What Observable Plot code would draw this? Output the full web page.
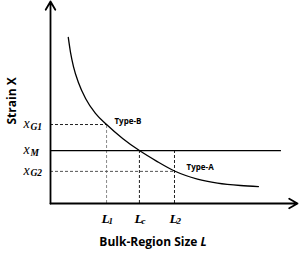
<!DOCTYPE html>
<html>
<head>
<meta charset="utf-8">
<script src="https://cdn.jsdelivr.net/npm/d3@7"></script>
<script src="https://cdn.jsdelivr.net/npm/@observablehq/plot@0.6"></script>
<style>
  html, body { margin: 0; padding: 0; background: #fff; }
  svg { display: block; }
</style>
</head>
<body>
<div id="chart"></div>
<script>
// Curve (L = bulk-region size, X = strain), arbitrary units
const curveL = [0.72, 0.81, 0.93, 1.13, 1.42, 1.82, 2.27, 2.92, 3.60, 4.29, 5.02, 5.95, 6.76, 7.69, 8.42];
const curveX = [8.22, 7.48, 6.78, 5.99, 5.20, 4.46, 3.91, 3.22, 2.62, 2.10, 1.61, 1.21, 1.01, 0.89, 0.84];

// Characteristic values
const L1 = 2.27, Lc = 3.60, L2 = 5.02;
const xG1 = 3.91, xM = 2.62, xG2 = 1.59;
const xMLineEnd = 9.35;
const axisMax = 10;

// Tick labels (main letter + subscript)
const yTickVals = [xG1, xM, xG2];
const yTickMain = ["x", "x", "x"];
const yTickSub = ["G1", "M", "G2"];
const xTickVals = [L1, Lc, L2];
const xTickMain = ["L", "L", "L"];
const xTickSub = ["1", "c", "2"];

// Curve annotations
const annotText = ["Type-B", "Type-A"];
const annotL = [2.59, 5.51];
const annotX = [4.06, 1.80];

// Axis titles
const yTitle = ["Strain X"];
const xTitle = ["Bulk-Region Size L"];

const curve = curveL.map((L, i) => ({L, X: curveX[i]}));
const yTicks = yTickVals.map((v, i) => ({v, main: yTickMain[i], sub: yTickSub[i]}));
const xTicks = xTickVals.map((v, i) => ({v, main: xTickMain[i], sub: xTickSub[i]}));
const annots = annotText.map((t, i) => ({t, L: annotL[i], X: annotX[i]}));

const serif = "'Liberation Serif', 'DejaVu Serif', serif";
const sans = "'Open Sans', 'Liberation Sans', sans-serif";

const plot = Plot.plot({
  width: 301,
  height: 254,
  marginLeft: 50,
  marginRight: 4,
  marginTop: 1,
  marginBottom: 51,
  x: {domain: [0, axisMax], axis: null},
  y: {domain: [0, axisMax], axis: null},
  style: {background: "#fff", overflow: "visible"},
  marks: [
    // dashed guides
    Plot.ruleY([xG1], {x1: 0, x2: L1, stroke: "#222", strokeDasharray: "3,2", strokeWidth: 1}),
    Plot.ruleX([L1], {y1: 0, y2: xG1, stroke: "#888", strokeDasharray: "3,2", strokeWidth: 1}),
    Plot.ruleY([xG2], {x1: 0, x2: L2, stroke: "#555", strokeDasharray: "3,2", strokeWidth: 1}),
    Plot.ruleX([Lc], {y1: 0, y2: xM, stroke: "#222", strokeDasharray: "3,2", strokeWidth: 1}),
    Plot.ruleX([L2], {y1: 0, y2: xM, stroke: "#222", strokeDasharray: "3,2", strokeWidth: 1}),
    // x_M solid line
    Plot.ruleY([xM], {x1: 0, x2: xMLineEnd, stroke: "#000", strokeWidth: 1.3}),
    // curve
    Plot.line(curve, {x: "L", y: "X", curve: "monotone-x", stroke: "#000", strokeWidth: 1.3}),
    // axes with arrows
    Plot.arrow([{x1: 0, y1: 0, x2: axisMax, y2: 0}], {x1: "x1", y1: "y1", x2: "x2", y2: "y2", stroke: "#000", strokeWidth: 1.8, headLength: 8}),
    Plot.arrow([{x1: 0, y1: 0, x2: 0, y2: axisMax}], {x1: "x1", y1: "y1", x2: "x2", y2: "y2", stroke: "#000", strokeWidth: 1.8, headLength: 8}),
    // y tick labels
    Plot.text(yTicks, {x: 0, y: "v", text: "main", textAnchor: "start", dx: -27, dy: -1, fontFamily: serif, fontStyle: "italic", fontSize: 14, fill: "#000"}),
    Plot.text(yTicks, {x: 0, y: "v", text: "sub", textAnchor: "start", dx: -20, dy: 2, fontFamily: serif, fontStyle: "italic", fontWeight: "bold", fontSize: 9.5, fill: "#000"}),
    // x tick labels
    Plot.text(xTicks, {x: "v", y: 0, text: "main", textAnchor: "start", dx: -5, dy: 15, fontFamily: serif, fontStyle: "italic", fontWeight: "bold", fontSize: 13.5, fill: "#000"}),
    Plot.text(xTicks, {x: "v", y: 0, text: "sub", textAnchor: "start", dx: 2, dy: 18, fontFamily: serif, fontStyle: "italic", fontWeight: "bold", fontSize: 9, fill: "#000"}),
    // annotations
    Plot.text(annots, {x: "L", y: "X", text: "t", textAnchor: "start", fontFamily: sans, fontWeight: "bold", fontSize: 8, fill: "#000"}),
    // y-axis title, centred at the x_G1 level at the left of the frame
    Plot.text(yTitle, {frameAnchor: "left", y: () => xG1, text: d => d, dx: -38, rotate: -90, fontFamily: sans, fontWeight: "bold", fontSize: 12, fill: "#000"}),
    // x-axis title
    Plot.text(xTitle, {frameAnchor: "bottom", dx: -21, dy: 42, fontFamily: sans, fontWeight: "bold", fontSize: 12, fill: "#000"})
  ]
});

// Make the final "L" of the x title italic
d3.select(plot).selectAll("text").filter(function() { return this.textContent === "Bulk-Region Size L"; })
  .each(function() {
    const t = d3.select(this);
    t.text("");
    t.append("tspan").text("Bulk-Region Size ");
    t.append("tspan").attr("font-style", "italic").text("L");
  });

document.getElementById("chart").appendChild(plot);
</script>
</body>
</html>
